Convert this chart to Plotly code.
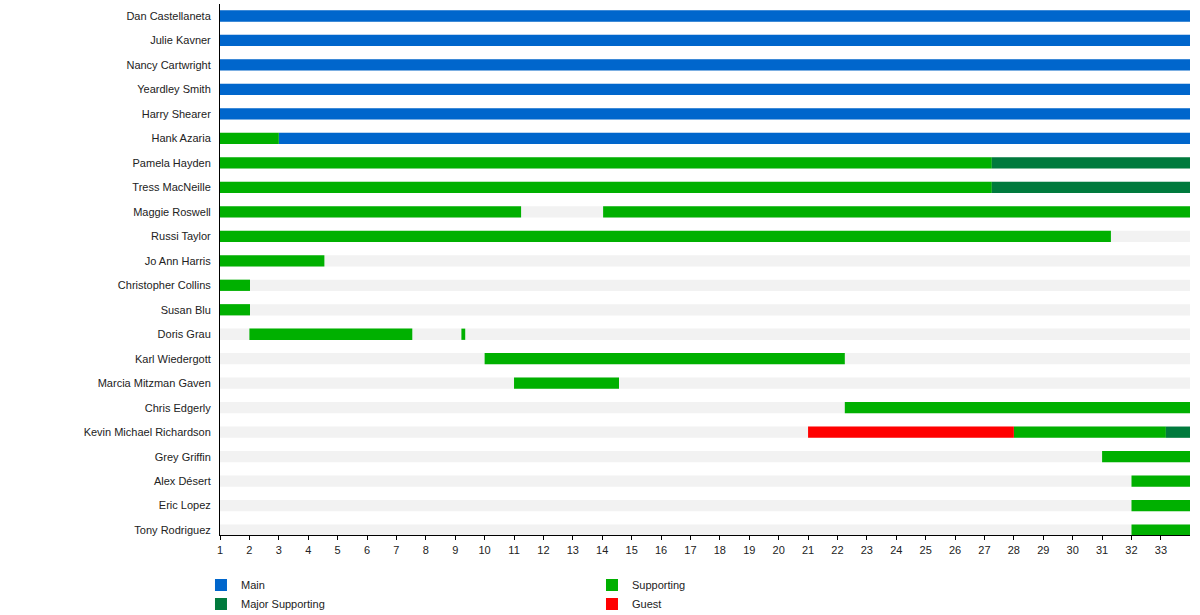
import plotly.graph_objects as go

# Cast members, top to bottom
actors = ["Dan Castellaneta", "Julie Kavner", "Nancy Cartwright", "Yeardley Smith",
          "Harry Shearer", "Hank Azaria", "Pamela Hayden", "Tress MacNeille",
          "Maggie Roswell", "Russi Taylor", "Jo Ann Harris", "Christopher Collins",
          "Susan Blu", "Doris Grau", "Karl Wiedergott", "Marcia Mitzman Gaven",
          "Chris Edgerly", "Kevin Michael Richardson", "Grey Griffin", "Alex Désert",
          "Eric Lopez", "Tony Rodriguez"]

season_start = 1
season_end = 34

# Segments per role: actor, start season, end season
main_actor = ["Dan Castellaneta", "Julie Kavner", "Nancy Cartwright", "Yeardley Smith",
              "Harry Shearer", "Hank Azaria"]
main_start = [1, 1, 1, 1, 1, 3]
main_end = [34, 34, 34, 34, 34, 34]

supp_actor = ["Hank Azaria", "Pamela Hayden", "Tress MacNeille", "Maggie Roswell",
              "Maggie Roswell", "Russi Taylor", "Jo Ann Harris", "Christopher Collins",
              "Susan Blu", "Doris Grau", "Doris Grau", "Karl Wiedergott",
              "Marcia Mitzman Gaven", "Chris Edgerly", "Kevin Michael Richardson",
              "Grey Griffin", "Alex Désert", "Eric Lopez", "Tony Rodriguez"]
supp_start = [1, 1, 1, 1, 14.03, 1, 1, 1, 1, 2, 9.21, 10, 11, 22.25, 28, 31, 32, 32, 32]
supp_end = [3, 27.25, 27.25, 11.24, 34, 31.3, 4.55, 2.02, 2.02, 7.54, 9.34, 22.25,
            14.57, 34, 33.17, 34, 34, 34, 34]

major_actor = ["Pamela Hayden", "Tress MacNeille", "Kevin Michael Richardson"]
major_start = [27.25, 27.25, 33.17]
major_end = [34, 34, 34]

guest_actor = ["Kevin Michael Richardson"]
guest_start = [21]
guest_end = [28]

# name, colour, legend column, data
roles = [
    ("Main", "#0066cc", "legend", main_actor, main_start, main_end),
    ("Supporting", "#00b000", "legend2", supp_actor, supp_start, supp_end),
    ("Major Supporting", "#007a3d", "legend", major_actor, major_start, major_end),
    ("Guest", "#ff0000", "legend2", guest_actor, guest_start, guest_end),
]

fig = go.Figure()

# light grey track behind every row
fig.add_trace(go.Bar(
    y=actors, x=[season_end - season_start] * len(actors), base=season_start,
    orientation="h", marker=dict(color="#f2f2f2", line_width=0),
    width=0.46, showlegend=False, hoverinfo="skip"))

for name, color, leg, who, start, end in roles:
    fig.add_trace(go.Bar(
        y=who, x=[e - s for s, e in zip(start, end)], base=start,
        orientation="h", name=name, legend=leg,
        marker=dict(color=color, line_width=0), width=0.46))

legend_style = dict(orientation="v", yanchor="top", y=-0.067, xanchor="left",
                    traceorder="normal", font=dict(size=11), itemclick=False,
                    bgcolor="rgba(0,0,0,0)")

fig.update_layout(
    width=1200, height=615,
    barmode="overlay",
    plot_bgcolor="white", paper_bgcolor="white",
    margin=dict(l=220, r=10, t=4, b=80, autoexpand=False),
    font=dict(family="Liberation Sans, Arial, sans-serif", size=11, color="#222"),
    legend=dict(x=-0.0196, **legend_style),
    legend2=dict(x=0.3835, **legend_style),
)

fig.update_xaxes(range=[season_start, 33.99], tickmode="linear", tick0=1, dtick=1,
                 showgrid=False, zeroline=False, showline=True, linecolor="black",
                 ticks="outside", ticklen=4, tickcolor="black", ticklabelstandoff=1)
fig.update_yaxes(categoryorder="array", categoryarray=actors, range=[21.2, -0.49],
                 showgrid=False, zeroline=False, showline=True, linecolor="black",
                 ticks="", ticklabelstandoff=6)

# drop the default page margin so the figure sits at the window origin
fig.write_html("out.html", config={"displayModeBar": False},
               post_script="document.body.style.margin='0';")
